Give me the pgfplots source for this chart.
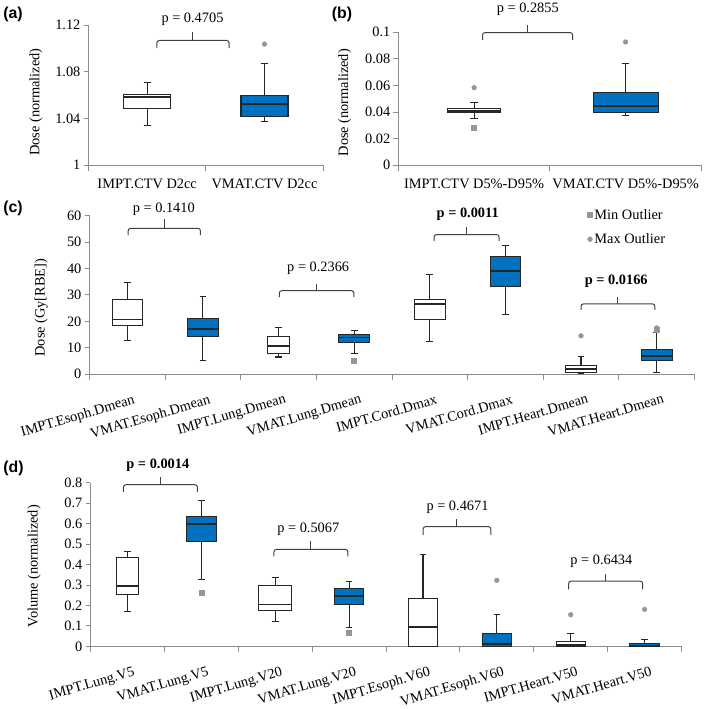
\documentclass[border=0pt]{standalone}
\usepackage{fontspec}
\setmainfont{Liberation Serif}
\newfontfamily\panelfont{Liberation Sans}
\usepackage{pgfplots}
\pgfplotsset{compat=1.18}
\definecolor{vblue}{HTML}{0070C0}
\definecolor{outl}{HTML}{969696}
\definecolor{axgray}{HTML}{8C8C8C}
\definecolor{boxk}{HTML}{262626}
\definecolor{brk}{HTML}{404040}
\newcommand\fs{\fontsize{14.5}{17}\selectfont}
% box: #1 position, #2 upper whisker, #3 upper quartile, #4 median, #5 lower quartile, #6 lower whisker, #7 half box width, #8 fill
\newcommand\bx[8]{%
  \pgfmathsetmacro\bxL{#1-#7}\pgfmathsetmacro\bxR{#1+#7}%
  \pgfmathsetmacro\cpL{#1-\cw}\pgfmathsetmacro\cpR{#1+\cw}%
  \addplot[boxk, mark=none, line width=1.1pt, forget plot] coordinates {(#1,#3) (#1,#2)};
  \addplot[boxk, mark=none, line width=1.1pt, forget plot] coordinates {(\cpL,#2) (\cpR,#2)};
  \addplot[boxk, mark=none, line width=1.1pt, forget plot] coordinates {(#1,#5) (#1,#6)};
  \addplot[boxk, mark=none, line width=1.1pt, forget plot] coordinates {(\cpL,#6) (\cpR,#6)};
  \addplot[draw=boxk, fill=#8, mark=none, line width=1.1pt, forget plot] coordinates {(\bxL,#5) (\bxR,#5) (\bxR,#3) (\bxL,#3)} -- cycle;
  \addplot[boxk, mark=none, line width=1.8pt, forget plot] coordinates {(\bxL,#4) (\bxR,#4)};
}
\newcommand\pbrk[5]{%
  \draw[brk, line width=1pt, rounded corners=2.5pt] (#1,#4) -- (#1,#3) -- (#2,#3) -- (#2,#4);
  \draw[brk, line width=1pt] ({(#1+#2)/2},#3) -- ({(#1+#2)/2},#5);}
\pgfplotsset{
  panel/.style={
    scale only axis, anchor=south west, clip=false,
    axis x line*=bottom, axis y line*=left,
    axis line style={axgray, line width=0.9pt},
    tick align=outside,
    major tick length=5pt, minor tick length=6pt,
    ytick style={axgray, line width=0.9pt},
    major x tick style={draw=none},
    minor x tick style={axgray, line width=0.9pt},
    tick label style={font=\fs},
    label style={font=\fs},
    yticklabel style={inner sep=0pt, xshift=-3pt},
    /pgf/number format/assume math mode=true,
  },
  flatlab/.style={xticklabel style={anchor=north, inner sep=0pt, yshift=-9pt}},
  rotlab/.style={xticklabel style={rotate=16.5, anchor=north east, inner sep=0pt, yshift=-15.5pt, xshift=1pt}},
}
\begin{document}
\begin{tikzpicture}
\begin{scope}[x=1pt, y=-1pt]
\useasboundingbox (0,0) rectangle (709,708);
\end{scope}

% ---------- (a)
\def\cw{0.03}
\begin{axis}[panel, flatlab, at={(88pt,-165pt)}, width=237pt, height=141.7pt,
  xmin=-0.5, xmax=1.5, ymin=1, ymax=1.12,
  xtick={0,1}, xticklabels={IMPT.CTV D2cc, VMAT.CTV D2cc},
  minor xtick={-0.5,0.5,1.5},
  ytick={1,1.04,1.08,1.12}, yticklabels={1,1.04,1.08,1.12},
  ylabel={Dose (normalized)},
  ylabel style={at={(axis description cs:-0.224,0.45)}, anchor=center}]
\bx{0}{1.0709}{1.0602}{1.0585}{1.0483}{1.0340}{0.2}{white}
\bx{1}{1.0874}{1.0596}{1.0525}{1.0414}{1.0372}{0.2}{vblue}
\addplot[only marks, mark=*, mark size=2.4pt, color=outl, forget plot] coordinates {(1,1.1036)};
\end{axis}

% ---------- (b)
\def\cw{0.025}
\begin{axis}[panel, flatlab, at={(401pt,-165pt)}, width=306pt, height=134.3pt,
  xmin=-0.5, xmax=1.5, ymin=0, ymax=0.1,
  xtick={0,1}, xticklabels={IMPT.CTV D5\%-D95\%, VMAT.CTV D5\%-D95\%},
  minor xtick={-0.5,0.5,1.5},
  ytick={0,0.02,0.04,0.06,0.08,0.1}, yticklabels={0,0.02,0.04,0.06,0.08,0.1},
  ylabel={Dose (normalized)},
  ylabel style={at={(axis description cs:-0.177,0.47)}, anchor=center}]
\bx{0}{0.0469}{0.0424}{0.0409}{0.0394}{0.0354}{0.175}{white}
\bx{1}{0.0768}{0.0544}{0.0446}{0.0399}{0.0372}{0.215}{vblue}
\addplot[only marks, mark=*, mark size=2.4pt, color=outl, forget plot] coordinates {(0,0.0583) (1,0.0927)};
\addplot[only marks, mark=square*, mark size=2.5pt, color=outl, forget plot] coordinates {(0,0.0279)};
\end{axis}

% ---------- (c)
\def\cw{0.045}
\begin{axis}[panel, rotlab, at={(89pt,-376pt)}, width=611pt, height=160pt,
  xmin=-0.5, xmax=7.5, ymin=0, ymax=60,
  xtick={0,...,7},
  xticklabels={IMPT.Esoph.Dmean, VMAT.Esoph.Dmean, IMPT.Lung.Dmean, VMAT.Lung.Dmean, IMPT.Cord.Dmax, VMAT.Cord.Dmax, IMPT.Heart.Dmean, VMAT.Heart.Dmean},
  minor xtick={-0.5,0.5,...,7.5},
  ytick={0,10,...,60}, yticklabels={0,10,20,30,40,50,60},
  ylabel={Dose (Gy[RBE])},
  ylabel style={at={(axis description cs:-0.080,0.42)}, anchor=center},
  legend style={draw=none, fill=none, font=\fs, at={(axis description cs:0.823,1.055)}, anchor=north west, row sep=9pt, inner sep=0pt},
  legend cell align=left,
  legend image code/.code={\draw[#1] plot coordinates {(2pt,0pt)};}]
\addlegendimage{only marks, mark=square*, mark size=2.5pt, color=outl}
\addlegendentry{Min Outlier}
\addlegendimage{only marks, mark=*, mark size=2.4pt, color=outl}
\addlegendentry{Max Outlier}
\bx{0}{34.7}{28.1}{20.7}{18.4}{12.7}{0.2}{white}
\bx{1}{29.4}{21.2}{17.1}{14.2}{5.1}{0.2}{vblue}
\bx{2}{17.6}{14.2}{10.6}{7.7}{6.5}{0.145}{white}
\bx{3}{16.5}{15.0}{13.9}{12.1}{7.9}{0.205}{vblue}
\bx{4}{37.9}{28.1}{26.6}{20.7}{12.2}{0.205}{white}
\bx{5}{48.7}{44.7}{39.0}{33.2}{22.6}{0.2}{vblue}
\bx{6}{6.6}{3.2}{1.9}{0.6}{0.25}{0.2}{white}
\bx{7}{15.6}{9.3}{7.0}{5.0}{0.6}{0.205}{vblue}
\addplot[only marks, mark=square*, mark size=2.5pt, color=outl, forget plot] coordinates {(3,5.1) (7,16.9)};
\addplot[only marks, mark=*, mark size=2.4pt, color=outl, forget plot] coordinates {(6,14.5) (7,17.5)};
\end{axis}

% ---------- (d)
\def\cw{0.045}
\begin{axis}[panel, rotlab, at={(90pt,-651pt)}, width=597pt, height=165.3pt,
  xmin=-0.5, xmax=7.5, ymin=0, ymax=0.8,
  xtick={0,...,7},
  xticklabels={IMPT.Lung.V5, VMAT.Lung.V5, IMPT.Lung.V20, VMAT.Lung.V20, IMPT.Esoph.V60, VMAT.Esoph.V60, IMPT.Heart.V50, VMAT.Heart.V50},
  minor xtick={-0.5,0.5,...,7.5},
  ytick={0,0.1,...,0.8}, yticklabels={0,0.1,0.2,0.3,0.4,0.5,0.6,0.7,0.8},
  ylabel={Volume (normalized)},
  ylabel style={at={(axis description cs:-0.0955,0.49)}, anchor=center}]
\bx{0}{0.463}{0.434}{0.294}{0.252}{0.171}{0.145}{white}
\bx{1}{0.713}{0.635}{0.600}{0.514}{0.329}{0.2}{vblue}
\bx{2}{0.335}{0.297}{0.205}{0.177}{0.121}{0.22}{white}
\bx{3}{0.318}{0.281}{0.245}{0.206}{0.094}{0.2}{vblue}
\bx{4}{0.448}{0.232}{0.095}{0}{0}{0.2}{white}
\bx{5}{0.156}{0.063}{0.010}{0}{0}{0.195}{vblue}
\bx{6}{0.063}{0.026}{0.006}{0}{0}{0.195}{white}
\bx{7}{0.035}{0.016}{0.003}{0}{0}{0.2}{vblue}
\addplot[only marks, mark=square*, mark size=2.5pt, color=outl, forget plot] coordinates {(1,0.263) (3,0.065)};
\addplot[only marks, mark=*, mark size=2.4pt, color=outl, forget plot] coordinates {(5,0.323) (6,0.155) (7,0.181)};
\end{axis}

\begin{scope}[x=1pt, y=-1pt]
% ---------- brackets and p-values
\pbrk{157}{230}{39}{46.7}{30.7}
\node[font=\fs] at (193,18) {p = 0.4705};
\pbrk{486}{577}{31}{38.3}{23.3}
\node[font=\fs] at (531.7,7.8) {p = 0.2855};
\pbrk{128}{201}{228.7}{235.5}{219.3}
\node[font=\fs] at (164,209.3) {p = 0.1410};
\pbrk{280.7}{356}{291.7}{298.3}{285}
\node[font=\fs] at (320,269) {p = 0.2366};
\pbrk{437}{502.7}{235}{241.7}{227.5}
\node[font=\fs\bfseries] at (471,215) {p = 0.0011};
\pbrk{585.5}{660}{305}{311}{298}
\node[font=\fs\bfseries] at (621,282.5) {p = 0.0166};
\pbrk{123.3}{198}{487.7}{495}{480}
\node[font=\fs\bfseries] at (158,467.7) {p = 0.0014};
\pbrk{275.3}{350}{553}{560}{545}
\node[font=\fs] at (310,532.3) {p = 0.5067};
\pbrk{426}{494.3}{530}{538.3}{522.7}
\node[font=\fs] at (460.7,510) {p = 0.4671};
\pbrk{573}{647.7}{585}{593.3}{577.7}
\node[font=\fs] at (606,565) {p = 0.6434};

% ---------- panel letters
\node[font=\panelfont\bfseries\fontsize{16}{18}\selectfont] at (11.7,12.5) {(a)};
\node[font=\panelfont\bfseries\fontsize{16}{18}\selectfont] at (344,12.5) {(b)};
\node[font=\panelfont\bfseries\fontsize{16}{18}\selectfont] at (11.7,209) {(c)};
\node[font=\panelfont\bfseries\fontsize{16}{18}\selectfont] at (12.3,471.7) {(d)};
\end{scope}
\end{tikzpicture}
\end{document}
